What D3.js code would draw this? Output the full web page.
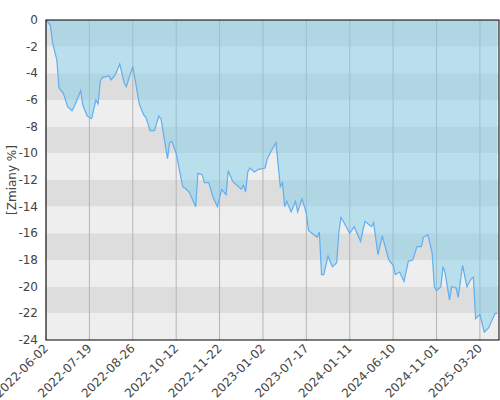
<!DOCTYPE html>
<html><head><meta charset="utf-8">
<script src="https://cdn.jsdelivr.net/npm/d3@7"></script>
<style>body{margin:0;background:#fff}svg{font-family:"DejaVu Sans",sans-serif}</style>
</head><body><div id="chart"></div>
<script>
'use strict';

// sample position (trading-day index) and value in %
const idx = [0,2,3,5,6,8,10,12,13,16,17,19,21,23,24,25,26,29,30,32,34,36,37,40,41,43,45,46,48,50,52,53,56,57,58,60,63,64,66,69,70,72,73,75,77,79,81,83,84,86,88,90,91,92,93,94,96,98,101,102,104,106,108,109,110,111,113,115,116,118,120,121,125,126,127,128,130,132,134,135,136,138,140,142,145,147,150,151,153,155,158,160,161,163,165,167,169,171,173,174,176,178,179,180,182,183,184,186,187,189,190,192,194,196,197,198,200,202,204,207,208];
const values = [0,-0.4,-1.7,-3,-5.1,-5.5,-6.5,-6.8,-6.5,-5.3,-6.4,-7.2,-7.4,-6,-6.3,-4.6,-4.3,-4.2,-4.5,-4.1,-3.3,-4.7,-5,-3.5,-4.4,-6.3,-7.1,-7.3,-8.3,-8.3,-7.2,-7.4,-10.4,-9.2,-9.1,-10,-12.5,-12.6,-12.9,-14,-11.5,-11.6,-12.2,-12.2,-13.3,-14,-12.7,-13.1,-11.3,-12.1,-12.4,-12.7,-12.4,-12.9,-11.4,-11.1,-11.4,-11.2,-11.1,-10.4,-9.75,-9.2,-12.5,-12.2,-14,-13.6,-14.4,-13.6,-14.4,-13.4,-14.5,-15.8,-16.3,-15.9,-19.1,-19.1,-17.7,-18.5,-18.2,-15.9,-14.8,-15.4,-16,-15.5,-16.6,-15.1,-15.5,-15.2,-17.6,-16.2,-18,-18.4,-19.1,-18.9,-19.6,-18.1,-18,-17,-17,-16.3,-16.1,-17.5,-20,-20.3,-20,-18.5,-19,-21,-20,-20.1,-20.8,-18.4,-20,-19.4,-19.3,-22.4,-22.1,-23.4,-23.1,-22,-22];
const tickIdx = [0,20,40,60,80,100,120,140,160,180,200];
const tickLabels = ['2022-06-02','2022-07-19','2022-08-26','2022-10-12','2022-11-22','2023-01-02','2023-07-17','2024-01-11','2024-06-10','2024-11-01','2025-03-20'];
const yTicks = d3.range(0, -25, -2);

const W = 500, H = 400, m = {l: 46, r: 1, t: 20, b: 60};
const x = d3.scaleLinear().domain([0, 208.8]).range([m.l, W - m.r]);
const y = d3.scaleLinear().domain([0, -24]).range([m.t, H - m.b]);
const svg = d3.select('#chart').append('svg').attr('width', W).attr('height', H);

// alternating bands
svg.selectAll('rect.band').data(yTicks.slice(0, -1)).enter().append('rect')
  .attr('x', m.l).attr('width', W - m.r - m.l)
  .attr('y', d => y(d)).attr('height', d => y(d - 2) - y(d))
  .attr('fill', (d, i) => i % 2 ? '#eeeeee' : '#dddddd');

// vertical grid
svg.selectAll('line.vg').data(tickIdx).enter().append('line')
  .attr('x1', d => x(d)).attr('x2', d => x(d)).attr('y1', m.t).attr('y2', H - m.b)
  .attr('stroke', '#b4b4b4').attr('stroke-width', 1);

const pts = idx.map((d, i) => [d, values[i]]);
svg.append('path').datum(pts)
  .attr('d', d3.area().x(d => x(d[0])).y0(y(0)).y1(d => y(d[1])))
  .attr('fill', 'rgb(125,204,234)').attr('fill-opacity', 0.47);
svg.append('path').datum(pts)
  .attr('d', d3.line().x(d => x(d[0])).y(d => y(d[1])))
  .attr('fill', 'none').attr('stroke', '#62aef0').attr('stroke-width', 1.2);

svg.append('rect').attr('x', m.l).attr('y', m.t).attr('width', W - m.r - m.l).attr('height', H - m.b - m.t)
  .attr('fill', 'none').attr('stroke', '#000').attr('stroke-width', 1);

svg.selectAll('text.yt').data(yTicks).enter().append('text')
  .attr('x', m.l - 8).attr('y', d => y(d) + 4).attr('text-anchor', 'end')
  .attr('font-size', 12).attr('fill', '#444').text(d => d);

svg.selectAll('text.xt').data(tickIdx).enter().append('text')
  .attr('transform', d => `translate(${x(d) + 3},${H - m.b + 9}) rotate(-45)`)
  .attr('text-anchor', 'end').attr('font-size', 12).attr('fill', '#444')
  .text((d, i) => tickLabels[i]);

svg.append('text').attr('transform', `translate(16,${(m.t + H - m.b) / 2}) rotate(-90)`)
  .attr('text-anchor', 'middle').attr('font-size', 12).attr('fill', '#444').text('[Zmiany %]');
</script></body></html>
